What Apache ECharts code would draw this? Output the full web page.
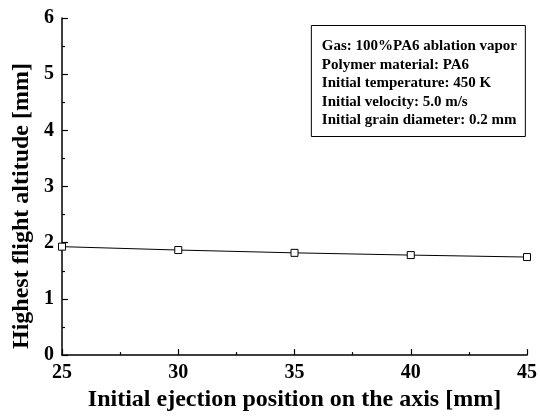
<!DOCTYPE html>
<html><head><meta charset="utf-8">
<script src="https://cdn.jsdelivr.net/npm/echarts@6/dist/echarts.min.js"></script>
<style>html,body{margin:0;padding:0;background:#fff}#c{width:540px;height:417px}</style>
</head><body><div id="c"></div>
<script>
const positions = [25, 30, 35, 40, 45];
const altitudes = [1.93, 1.87, 1.82, 1.78, 1.745];
const infoLines = [
  'Gas: 100%PA6 ablation vapor',
  'Polymer material: PA6',
  'Initial temperature: 450 K',
  'Initial velocity: 5.0 m/s',
  'Initial grain diameter: 0.2 mm'
];
const xTitle = 'Initial ejection position on the axis [mm]';
const yTitle = 'Highest flight altitude [mm]';
const FONT = '"Liberation Serif", "Times New Roman", serif';
const chart = echarts.init(document.getElementById('c'));
chart.setOption({
  animation: false,
  backgroundColor: '#fff',
  grid: {left: 62, right: 11, top: 18, bottom: 55},
  title: {
    text: infoLines.join('\n'),
    right: 14, top: 25,
    borderColor: '#000', borderWidth: 1,
    padding: [12, 9, 7, 11],
    textStyle: {fontFamily: FONT, fontWeight: 'bold', fontSize: 15, lineHeight: 18.5, color: '#000'}
  },
  graphic: [{
    type: 'text',
    x: 22, y: 206, rotation: Math.PI / 2,
    style: {
      text: yTitle, fontFamily: FONT, fontWeight: 'bold', fontSize: 24, fill: '#000',
      align: 'center', verticalAlign: 'middle'
    }
  }],
  xAxis: {
    type: 'value', min: 25, max: 45, interval: 5,
    name: xTitle, nameLocation: 'middle', nameGap: 31,
    nameTextStyle: {fontFamily: FONT, fontWeight: 'bold', fontSize: 24, color: '#000'},
    axisLine: {lineStyle: {color: '#000', width: 1.5}},
    axisTick: {inside: true, length: 6, lineStyle: {color: '#000', width: 1.2}},
    minorTick: {show: true, splitNumber: 2, length: 3, lineStyle: {color: '#000', width: 1.2}},
    axisLabel: {fontFamily: FONT, fontWeight: 'bold', fontSize: 20, color: '#000', margin: 8},
    splitLine: {show: false}
  },
  yAxis: {
    type: 'value', min: 0, max: 6, interval: 1,
    axisLine: {show: true, lineStyle: {color: '#000', width: 1.5}},
    axisTick: {show: true, inside: true, length: 6, lineStyle: {color: '#000', width: 1.2}},
    minorTick: {show: true, splitNumber: 2, length: 3, lineStyle: {color: '#000', width: 1.2}},
    axisLabel: {fontFamily: FONT, fontWeight: 'bold', fontSize: 20, color: '#000', margin: 8},
    splitLine: {show: false}
  },
  series: [{
    type: 'line',
    data: positions.map((p, i) => [p, altitudes[i]]),
    symbol: 'rect', symbolSize: 7,
    itemStyle: {color: '#fff', borderColor: '#000', borderWidth: 1},
    lineStyle: {color: '#000', width: 1}
  }]
});
</script></body></html>
